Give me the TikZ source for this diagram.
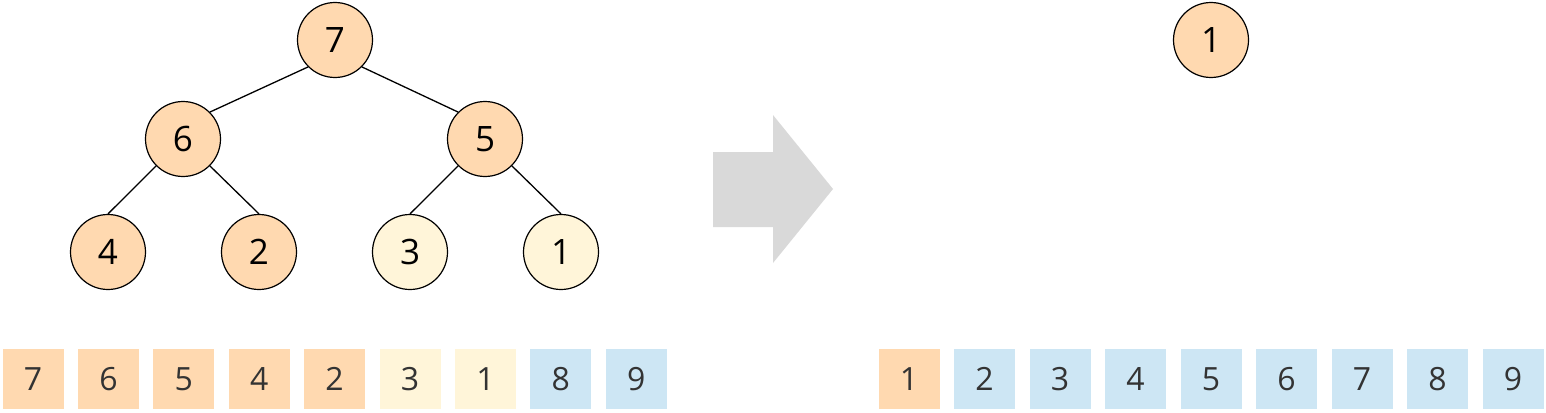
\documentclass[tikz,border=0pt]{standalone}
\usepackage{fontspec}
\setmainfont{Open Sans}
\usepackage{xcolor}
\definecolor{heapfill}{HTML}{FFD9B0}
\definecolor{leaffill}{HTML}{FFF5D9}
\definecolor{donefill}{HTML}{CDE6F4}
\definecolor{arrowgray}{HTML}{D9D9D9}
\definecolor{digit}{HTML}{333333}

\begin{document}
\begin{tikzpicture}[x=1pt,y=-1pt,
        heap/.style={circle,draw=black,line width=1.2pt,minimum size=75pt,inner sep=0pt,font=\fontsize{35}{35}\selectfont},
        cell/.style={rectangle,minimum width=61pt,minimum height=60pt,inner sep=0pt,text=digit,font=\fontsize{32}{32}\selectfont}]
        \useasboundingbox (0,0) rectangle (1546,412);

        % tree on the left
        \node[heap,fill=heapfill] (n7) at (335,40) {7};
        \node[heap,fill=heapfill] (n6) at (183,139) {6};
        \node[heap,fill=heapfill] (n5) at (485,139) {5};
        \node[heap,fill=heapfill] (n4) at (108,252) {4};
        \node[heap,fill=heapfill] (n2) at (259,252) {2};
        \node[heap,fill=leaffill] (n3) at (410,252) {3};
        \node[heap,fill=leaffill] (n1) at (561,252) {1};

        \draw[line width=1.3pt] (n7.south west) -- (n6.north east);
        \draw[line width=1.3pt] (n7.south east) -- (n5.north west);
        \draw[line width=1.3pt] (n6.south west) -- (n4.north);
        \draw[line width=1.3pt] (n6.south east) -- (n2.north);
        \draw[line width=1.3pt] (n5.south west) -- (n3.north);
        \draw[line width=1.3pt] (n5.south east) -- (n1.north);

        % array on the left
        \foreach \v/\c [count=\i from 0] in {7/heapfill,6/heapfill,5/heapfill,4/heapfill,2/heapfill,3/leaffill,1/leaffill,8/donefill,9/donefill}
            \node[cell,fill=\c] (a\i) at (33+75.4*\i,379) {\v};

        % big arrow
        \fill[arrowgray] (713,152) -- (773,152) -- (773,115) -- (833,189) -- (773,263) -- (773,227) -- (713,227) -- cycle;

        % result on the right
        \node[heap,fill=heapfill] (r1) at (1211,40) {1};
        \foreach \v/\c [count=\i from 0] in {1/heapfill,2/donefill,3/donefill,4/donefill,5/donefill,6/donefill,7/donefill,8/donefill,9/donefill}
            \node[cell,fill=\c] (b\i) at (909+75.5*\i,379) {\v};
    \end{tikzpicture}
\end{document}
